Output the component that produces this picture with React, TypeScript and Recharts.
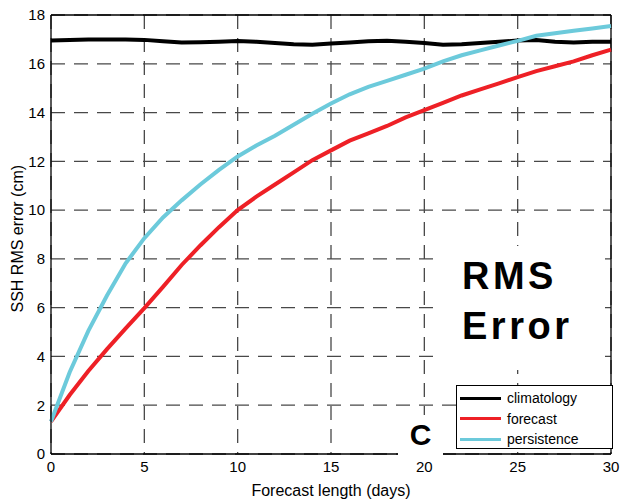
import { LineChart, Line, XAxis, YAxis, CartesianGrid, ReferenceLine } from 'recharts';

const days = [0, 1, 2, 3, 4, 5, 6, 7, 8, 9, 10, 11, 12, 13, 14, 15, 16, 17, 18, 19, 20, 21, 22, 23, 24, 25, 26, 27, 28, 29, 30];
const climatology = [16.95, 16.97, 17.0, 17.0, 17.0, 16.98, 16.92, 16.87, 16.88, 16.9, 16.93, 16.9, 16.85, 16.8, 16.78, 16.83, 16.87, 16.92, 16.94, 16.9, 16.85, 16.78, 16.8, 16.85, 16.9, 16.95, 16.97, 16.9, 16.87, 16.9, 16.9];
const forecast = [1.33, 2.42, 3.4, 4.3, 5.15, 5.98, 6.85, 7.75, 8.55, 9.3, 10.0, 10.55, 11.05, 11.55, 12.05, 12.45, 12.85, 13.15, 13.45, 13.8, 14.1, 14.4, 14.7, 14.95, 15.2, 15.45, 15.7, 15.9, 16.1, 16.35, 16.58];
const persistence = [1.33, 3.35, 5.05, 6.5, 7.82, 8.85, 9.7, 10.4, 11.05, 11.65, 12.2, 12.65, 13.05, 13.5, 13.95, 14.37, 14.75, 15.05, 15.3, 15.55, 15.8, 16.1, 16.35, 16.55, 16.75, 16.94, 17.15, 17.25, 17.35, 17.45, 17.55];
const xTicks = [0, 5, 10, 15, 20, 25, 30];
const yTicks = [0, 2, 4, 6, 8, 10, 12, 14, 16, 18];

const series = [
  { key: 'climatology', color: '#000000' },
  { key: 'forecast', color: '#ee2026' },
  { key: 'persistence', color: '#6ccadb' },
];

const font = '"Liberation Sans", Arial, sans-serif';

function LegendBox() {
  return (
    <div
      style={{
        position: 'absolute', left: 456, top: 385, width: 157, height: 64,
        background: '#fff', border: '1px solid #000', fontFamily: font, fontSize: 14,
        boxSizing: 'border-box', padding: '2px 0 0 3px', color: '#000',
      }}
    >
      {series.map((s) => (
        <div key={s.key} style={{ display: 'flex', alignItems: 'center', height: 20.5 }}>
          <div style={{ width: 41, height: 3, background: s.color, marginRight: 6 }} />
          <span>{s.key}</span>
        </div>
      ))}
    </div>
  );
}

export default function App() {
  const data = days.map((d, i) => ({
    day: d,
    climatology: climatology[i],
    forecast: forecast[i],
    persistence: persistence[i],
  }));

  return (
    <div style={{ position: 'absolute', left: 0, top: 0, width: 621, height: 500, background: '#fff', fontFamily: font }}>
      <LineChart width={621} height={500} data={data} margin={{ top: 15, right: 10, left: 0, bottom: 0 }}>
        <CartesianGrid stroke="#484848" strokeDasharray="14 9" strokeWidth={1.3} />
        <XAxis
          dataKey="day"
          type="number"
          domain={[0, 30]}
          ticks={xTicks}
          height={46}
          tickLine={false}
          axisLine={{ stroke: '#000', strokeWidth: 1.3 }}
          tick={{ fill: '#000', fontSize: 15, fontFamily: font }}
          tickMargin={1}
          label={{ value: 'Forecast length (days)', position: 'insideBottom', offset: 4, fill: '#000', fontSize: 16, fontFamily: font }}
        />
        <YAxis
          type="number"
          domain={[0, 18]}
          ticks={yTicks}
          width={51}
          tickLine={false}
          interval={0}
          axisLine={{ stroke: '#000', strokeWidth: 1.3 }}
          tick={{ fill: '#000', fontSize: 15, fontFamily: font }}
          tickMargin={0}
          label={{ value: 'SSH RMS error (cm)', angle: -90, position: 'insideLeft', offset: 17, dy: 78, fill: '#000', fontSize: 16, fontFamily: font }}
        />
        <ReferenceLine y={18} stroke="#000" strokeWidth={1.3} />
        <ReferenceLine x={30} stroke="#000" strokeWidth={1.3} />
        {series.map((s) => (
          <Line
            key={s.key}
            dataKey={s.key}
            stroke={s.color}
            strokeWidth={4}
            dot={false}
            type="linear"
            isAnimationActive={false}
          />
        ))}
      </LineChart>
      <div
        style={{
          position: 'absolute', left: 442, top: 246, width: 163, height: 124, background: '#fff',
          fontWeight: 'bold', fontSize: 38, letterSpacing: 3.5, lineHeight: '50px', paddingLeft: 20,
          boxSizing: 'border-box', paddingTop: 5, color: '#000',
        }}
      >
        <div>RMS</div>
        <div>Error</div>
      </div>
      <div
        style={{
          position: 'absolute', left: 398, top: 415, width: 45, height: 40, background: '#fff',
          fontWeight: 'bold', fontSize: 30, textAlign: 'center', lineHeight: '40px', color: '#000',
        }}
      >
        C
      </div>
      <LegendBox />
    </div>
  );
}
